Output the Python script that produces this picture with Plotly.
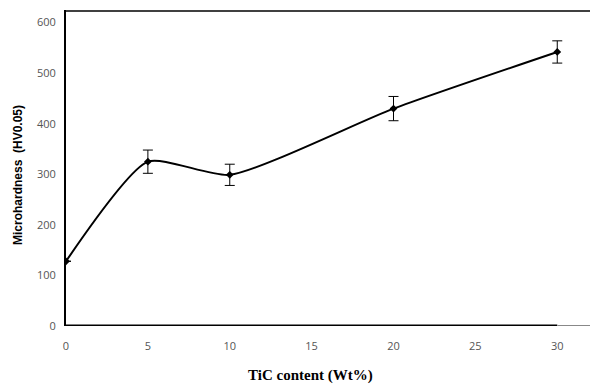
import plotly.graph_objects as go

tic_content = [0, 5, 10, 20, 30]
microhardness = [128, 325, 299, 430, 542]
error = [0, 23, 21, 24, 22]
x_ticks = [0, 5, 10, 15, 20, 25, 30]
y_ticks = [0, 100, 200, 300, 400, 500, 600]

fig = go.Figure()
fig.add_trace(go.Scatter(
    x=tic_content, y=microhardness,
    mode="lines+markers",
    line=dict(color="black", width=2, shape="spline", smoothing=0.6),
    marker=dict(symbol="diamond", size=6, color="black"),
    error_y=dict(type="data", array=error, visible=True, color="black",
                 thickness=1, width=5),
    showlegend=False,
))

fig.update_layout(
    width=591, height=385,
    margin=dict(l=66, r=1, t=10, b=59),
    paper_bgcolor="white", plot_bgcolor="white",
    xaxis=dict(range=[0, 32], tickvals=x_ticks, showgrid=False, zeroline=False,
               showline=False, ticks="outside", ticklen=10, tickcolor="rgba(0,0,0,0)",
               automargin=False,
               tickfont=dict(family="Open Sans", size=11, color="#555")),
    yaxis=dict(range=[0, 625], tickvals=y_ticks, showgrid=False, zeroline=False,
               showline=True, linecolor="black", linewidth=2,
               ticks="outside", ticklen=6, tickcolor="rgba(0,0,0,0)",
               automargin=False,
               tickfont=dict(family="Open Sans", size=11, color="#555")),
    annotations=[
        dict(text="<b>TiC content (Wt%)</b>", xref="paper", yref="paper",
             x=(310 - 66) / 524, y=-(375 - 326) / 316, showarrow=False,
             xanchor="center", yanchor="middle",
             font=dict(family="Liberation Serif", size=15, color="black")),
        dict(text="<b>Microhardness  (HV0.05)</b>", xref="paper", yref="paper",
             x=-(66 - 18) / 524, y=(326 - 175) / 316, showarrow=False, textangle=-90,
             xanchor="center", yanchor="middle",
             font=dict(family="Liberation Sans", size=12, color="black")),
    ],
    shapes=[
        dict(type="line", xref="x", yref="y", x0=0, x1=30, y0=0, y1=0,
             line=dict(color="black", width=3)),
        dict(type="line", xref="x", yref="y", x0=30, x1=32, y0=0, y1=0,
             line=dict(color="#888", width=2)),
        dict(type="line", xref="x", yref="y", x0=0, x1=32,
             y0=623, y1=623, layer="above",
             line=dict(color="black", width=1.5)),
    ],
)

fig.write_html("out.html", config={"displayModeBar": False},
               post_script="document.body.style.margin='0';")
